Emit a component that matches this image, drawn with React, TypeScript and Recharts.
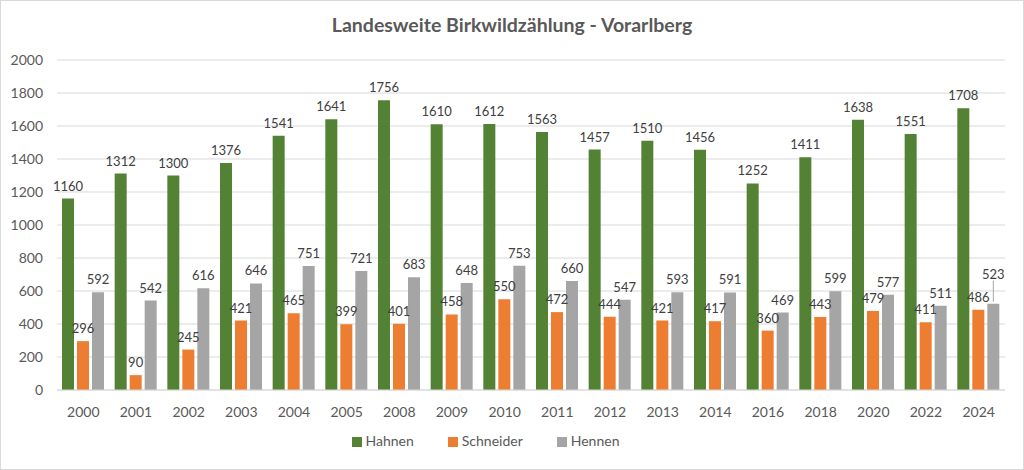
import * as React from "react"
import {
  BarChart,
  Bar,
  XAxis,
  YAxis,
  CartesianGrid,
  Legend,
  LabelList,
} from "recharts"

const years = [
  "2000", "2001", "2002", "2003", "2004", "2005", "2008", "2009", "2010",
  "2011", "2012", "2013", "2014", "2016", "2018", "2020", "2022", "2024",
]
const hahnen = [1160, 1312, 1300, 1376, 1541, 1641, 1756, 1610, 1612, 1563, 1457, 1510, 1456, 1252, 1411, 1638, 1551, 1708]
const schneider = [296, 90, 245, 421, 465, 399, 401, 458, 550, 472, 444, 421, 417, 360, 443, 479, 411, 486]
const hennen = [592, 542, 616, 646, 751, 721, 683, 648, 753, 660, 547, 593, 591, 469, 599, 577, 511, 523]
const yTicks = [0, 200, 400, 600, 800, 1000, 1200, 1400, 1600, 1800, 2000]
const seriesOrder = ["Hahnen", "Schneider", "Hennen"]

const data = years.map((year, i) => ({
  year,
  Hahnen: hahnen[i],
  Schneider: schneider[i],
  Hennen: hennen[i],
}))

const font = "Lato, 'Open Sans', sans-serif"
const labelStyle = { fontSize: 13, fill: "#404040", fontFamily: font }

// Excel pushed the last Hennen label up (with a leader line) so it clears the Schneider label
function HennenLabel(props: any) {
  const { x, y, width, value, index } = props
  const last = index === years.length - 1
  const cx = x + width / 2
  const ty = y - 8 - (last ? 17 : 0)
  return (
    <g>
      {last && <line x1={cx} x2={cx} y1={y - 2} y2={ty + 2} stroke="#a6a6a6" strokeWidth={1} />}
      <text x={cx} y={ty} textAnchor="middle" style={labelStyle}>
        {value}
      </text>
    </g>
  )
}

export default function App() {
  return (
    <div
      style={{
        position: "absolute",
        top: 0,
        left: 0,
        width: 1024,
        height: 470,
        boxSizing: "border-box",
        border: "1px solid #d9d9d9",
        background: "#fff",
        fontFamily: font,
      }}
    >
      <div
        style={{
          position: "absolute",
          top: 12,
          width: "100%",
          textAlign: "center",
          fontSize: 19.5,
          fontWeight: "bold",
          color: "#595959",
        }}
      >
        Landesweite Birkwildzählung - Vorarlberg
      </div>
      <div style={{ position: "absolute", top: -1, left: -1 }}>
        <BarChart
          width={1024}
          height={470}
          data={data}
          margin={{ top: 60, right: 19, left: 0, bottom: 0 }}
          barSize={12}
          barGap={3}
        >
          <CartesianGrid vertical={false} stroke="#d9d9d9" />
          <XAxis
            dataKey="year"
            height={40}
            axisLine={{ stroke: "#d9d9d9" }}
            tickLine={false}
            tickMargin={11}
            tick={{ fontSize: 14, fill: "#595959", fontFamily: font }}
          />
          <YAxis
            width={57}
            domain={[0, 2000]}
            ticks={yTicks}
            axisLine={false}
            tickLine={false}
            tickMargin={8}
            tick={{ fontSize: 14, fill: "#595959", fontFamily: font }}
          />
          <Legend
            height={40}
            iconType="square"
            iconSize={10}
            itemSorter={(item: any) => seriesOrder.indexOf(item.value)}
            formatter={(value) => (
              <span style={{ color: "#595959", fontSize: 14, marginRight: 24 }}>{value}</span>
            )}
          />
          <Bar dataKey="Hahnen" fill="#548235" isAnimationActive={false}>
            <LabelList dataKey="Hahnen" position="top" offset={8} style={labelStyle} />
          </Bar>
          <Bar dataKey="Schneider" fill="#ED7D31" isAnimationActive={false}>
            <LabelList dataKey="Schneider" position="top" offset={8} style={labelStyle} />
          </Bar>
          <Bar dataKey="Hennen" fill="#A5A5A5" isAnimationActive={false}>
            <LabelList dataKey="Hennen" content={HennenLabel} />
          </Bar>
        </BarChart>
      </div>
    </div>
  )
}
